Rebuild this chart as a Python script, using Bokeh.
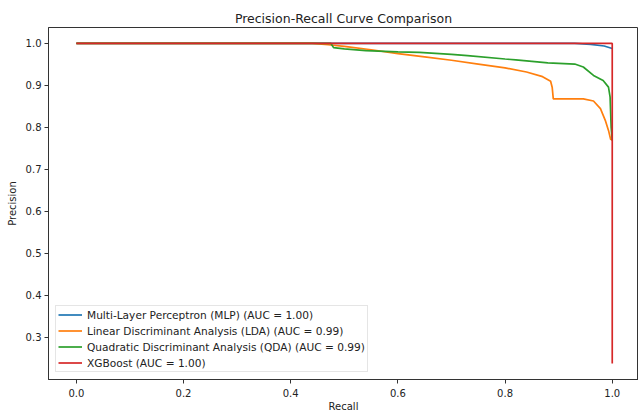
from bokeh.plotting import figure
from bokeh.models import Legend, LegendItem, Range1d, FixedTicker, Title
from bokeh.embed import file_html
from bokeh.resources import INLINE

# ---- data ----
mlp_recall = [0.0, 0.93, 0.96, 0.985, 1.0]
mlp_precision = [1.0, 1.0, 0.998, 0.994, 0.988]

lda_recall = [0.0, 0.44, 0.47, 0.50, 0.55, 0.60, 0.65, 0.70, 0.75, 0.80, 0.84, 0.87,
              0.885, 0.888, 0.89, 0.92, 0.946, 0.965, 0.978, 0.987, 0.993, 0.997, 1.0]
lda_precision = [1.0, 1.0, 0.997, 0.993, 0.985, 0.976, 0.968, 0.960, 0.951, 0.942, 0.932, 0.921,
                 0.910, 0.895, 0.868, 0.868, 0.868, 0.863, 0.845, 0.817, 0.793, 0.772, 0.77]

qda_recall = [0.0, 0.475, 0.48, 0.50, 0.54, 0.60, 0.64, 0.70, 0.73, 0.80, 0.82, 0.88,
              0.93, 0.946, 0.965, 0.983, 0.993, 0.996, 0.998, 1.0]
qda_precision = [1.0, 1.0, 0.99, 0.987, 0.983, 0.980, 0.979, 0.974, 0.971, 0.963, 0.961, 0.954,
                 0.951, 0.944, 0.924, 0.912, 0.896, 0.872, 0.80, 0.769]

xgb_recall = [0.0, 1.0, 1.0]
xgb_precision = [1.0, 1.0, 0.238]

labels = ["Multi-Layer Perceptron (MLP) (AUC = 1.00)",
          "Linear Discriminant Analysis (LDA) (AUC = 0.99)",
          "Quadratic Discriminant Analysis (QDA) (AUC = 0.99)",
          "XGBoost (AUC = 1.00)"]
colors = ["#1f77b4", "#ff7f0e", "#2ca02c", "#d62728"]
x_ticks = [0.0, 0.2, 0.4, 0.6, 0.8, 1.0]
y_ticks = [0.3, 0.4, 0.5, 0.6, 0.7, 0.8, 0.9, 1.0]

FONT = "DejaVu Sans"

p = figure(frame_width=590, frame_height=352, output_backend="svg", toolbar_location=None,
           x_range=Range1d(-0.052, 1.049), y_range=Range1d(0.200, 1.038),
           min_border_left=48, min_border_right=0, min_border_top=27, min_border_bottom=0)
p.title = Title(text="Precision-Recall Curve Comparison", align="center",
                text_font=FONT, text_font_size="12.5px", text_font_style="normal",
                text_color="#222222", standoff=4)

series = [(mlp_recall, mlp_precision), (lda_recall, lda_precision),
          (qda_recall, qda_precision), (xgb_recall, xgb_precision)]
items = []
for (xs, ys), c, lab in zip(series, colors, labels):
    r = p.line(xs, ys, line_color=c, line_width=1.7)
    items.append(LegendItem(label=lab, renderers=[r]))

legend = Legend(items=items, location="bottom_left",
                label_text_font=FONT, label_text_font_size="10.6px", label_text_color="#222222",
                glyph_width=24, glyph_height=13, label_height=13, spacing=3,
                padding=2, margin=7, border_line_color="#cccccc",
                background_fill_alpha=0.8)
p.add_layout(legend)

p.grid.visible = False
p.outline_line_color = "#333333"
p.background_fill_color = "white"
p.border_fill_color = "white"

for ax in (p.xaxis[0], p.yaxis[0]):
    ax.axis_line_color = "#333333"
    ax.major_tick_line_color = "#333333"
    ax.minor_tick_line_color = None
    ax.major_tick_out = 4
    ax.major_tick_in = 0
    ax.major_label_text_font = FONT
    ax.major_label_text_font_size = "10px"
    ax.major_label_text_color = "#222222"
    ax.axis_label_text_font = FONT
    ax.axis_label_text_font_size = "10px"
    ax.axis_label_text_font_style = "normal"
    ax.axis_label_text_color = "#222222"
    ax.major_label_standoff = 3

p.xaxis.ticker = FixedTicker(ticks=x_ticks)
p.yaxis.ticker = FixedTicker(ticks=y_ticks)
p.xaxis.major_label_overrides = {t: f"{t:.1f}" for t in x_ticks}
p.yaxis.major_label_overrides = {t: f"{t:.1f}" for t in y_ticks}
p.xaxis.axis_label = "Recall"
p.yaxis.axis_label = "Precision"
p.xaxis.major_label_standoff = 5
p.xaxis.axis_label_standoff = 1
p.yaxis.axis_label_standoff = 5

open("out.html", "w").write(file_html(p, INLINE))
